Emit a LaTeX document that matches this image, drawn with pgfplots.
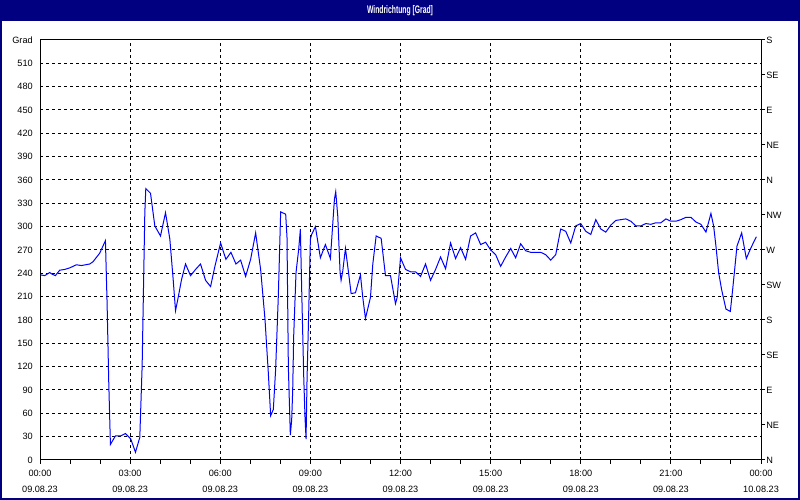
\documentclass[border=0pt]{standalone}
\usepackage{pgfplots}
\pgfplotsset{compat=1.18}
\usepackage{pgfplotstable}
\usepackage{fontspec}
\setmainfont{Liberation Sans}
\definecolor{titlenavy}{RGB}{0,0,128}
\definecolor{lineblue}{RGB}{0,0,255}

% wind direction, hours since 09.08.23 00:00
\pgfplotstableread{
h deg
0.022 238
0.156 237
0.322 241
0.400 239
0.511 237
0.656 244
0.822 245
0.989 247
1.211 251
1.378 250
1.656 252
1.767 255
1.989 266
2.178 282
2.233 202
2.289 99
2.344 20
2.511 31
2.689 31
2.844 34
3.022 27
3.178 10
3.322 29
3.400 121
3.489 318
3.522 349
3.678 343
3.822 301
4.011 288
4.178 318
4.322 284
4.433 232
4.511 192
4.600 209
4.711 232
4.844 252
5.011 237
5.178 245
5.344 252
5.511 231
5.678 223
5.822 249
6.011 279
6.189 258
6.356 267
6.522 252
6.678 257
6.844 236
7.011 258
7.178 292
7.344 245
7.489 181
7.600 112
7.678 57
7.767 65
7.844 117
7.933 211
8.011 319
8.178 316
8.222 286
8.267 119
8.333 32
8.378 52
8.411 89
8.444 159
8.522 241
8.611 271
8.667 297
8.711 219
8.778 108
8.822 54
8.856 27
8.889 104
8.944 189
9.000 284
9.044 290
9.167 300
9.333 260
9.500 277
9.667 259
9.800 335
9.844 345
9.911 314
9.989 241
10.022 231
10.078 243
10.167 272
10.244 249
10.356 214
10.500 215
10.667 238
10.744 209
10.833 182
11.000 209
11.078 252
11.189 288
11.356 285
11.500 237
11.667 237
11.833 201
11.889 209
12.000 260
12.167 245
12.333 242
12.500 242
12.667 236
12.833 252
13.000 231
13.167 245
13.333 261
13.500 246
13.667 279
13.833 259
14.000 273
14.167 258
14.333 288
14.500 292
14.667 277
14.833 280
15.000 270
15.167 264
15.333 249
15.500 261
15.667 272
15.833 260
16.000 278
16.167 269
16.333 267
16.500 267
16.667 267
16.833 264
17.000 257
17.167 264
17.333 297
17.500 294
17.667 279
17.833 301
18.000 304
18.167 294
18.333 290
18.500 309
18.667 297
18.833 293
19.000 302
19.167 308
19.333 309
19.500 310
19.667 307
19.833 301
20.000 301
20.167 304
20.333 303
20.500 305
20.667 305
20.833 310
21.000 307
21.167 307
21.333 309
21.500 312
21.667 312
21.833 306
22.000 303
22.167 293
22.333 317
22.422 301
22.500 275
22.589 241
22.689 219
22.833 194
22.978 191
23.056 219
23.133 249
23.200 275
23.356 292
23.511 259
23.667 273
23.844 287
}\winddata

\begin{document}
\fontsize{9.2}{11}\selectfont
\begin{tikzpicture}[x=1bp,y=1bp]
\useasboundingbox (0,0) rectangle (800,500);
\fill[titlenavy] (0,0) rectangle (800,500);
\fill[white] (2,2) rectangle (798,479);
\node[text=white,font=\fontsize{11}{12}\selectfont\bfseries] at (400,489.5) {\scalebox{0.62}[1]{Windrichtung [Grad]}};

\begin{axis}[
    at={(40bp,40bp)}, anchor=south west,
    scale only axis,
    width=721bp, height=420bp,
    xmin=0, xmax=24, ymin=0, ymax=540,
    xtick={0,3,...,24},
    minor x tick num=2,
    xticklabels={{00:00\\09.08.23},{03:00\\09.08.23},{06:00\\09.08.23},{09:00\\09.08.23},{12:00\\09.08.23},{15:00\\09.08.23},{18:00\\09.08.23},{21:00\\09.08.23},{00:00\\10.08.23}},
    xticklabel style={align=center, font=\fontsize{9.2}{16}\selectfont, yshift=-3bp},
    ytick={0,30,...,540},
    yticklabels={0,30,60,90,120,150,180,210,240,270,300,330,360,390,420,450,480,510,\raisebox{-4bp}{Grad}},
    yticklabel style={font=\fontsize{9.2}{11}\selectfont},
    xtick pos=bottom, ytick pos=left,
    tick align=outside,
    major tick length=4bp, minor tick length=4bp,
    ytick style={draw=none},
    tick style={black, line width=1bp},
    axis line style={black, line width=1bp},
    grid=major,
    major grid style={black, line width=1bp, dash pattern=on 3bp off 3bp},
]
\addplot[lineblue, line width=1bp] table[x=h, y=deg] {\winddata};
\end{axis}

\begin{axis}[
    at={(40bp,40bp)}, anchor=south west,
    scale only axis,
    width=721bp, height=420bp,
    xmin=0, xmax=24, ymin=0, ymax=540,
    axis x line=none,
    axis y line*=right,
    ytick={0,45,...,540},
    yticklabels={N,NE,E,SE,S,SW,W,NW,N,NE,E,SE,S},
    yticklabel style={font=\fontsize{9.2}{11}\selectfont, xshift=-2bp},
    tick align=outside,
    major tick length=4bp,
    tick style={black, line width=1bp},
    axis line style={black, line width=1bp},
]
\end{axis}
\end{tikzpicture}
\end{document}
